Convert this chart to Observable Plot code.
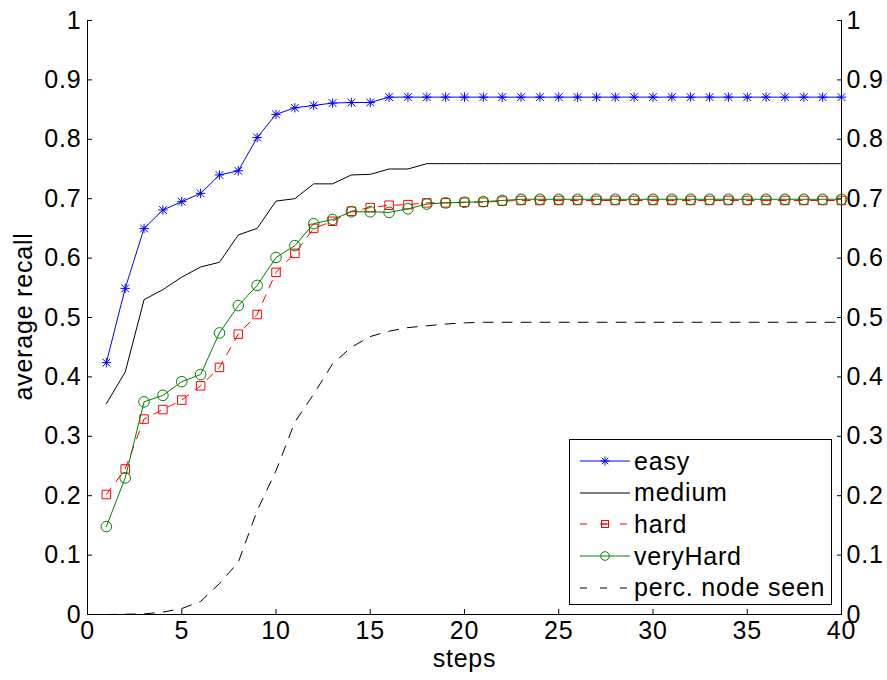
<!DOCTYPE html>
<html>
<head>
<meta charset="utf-8">
<script src="https://cdn.jsdelivr.net/npm/d3@7"></script>
<script src="https://cdn.jsdelivr.net/npm/@observablehq/plot@0.6"></script>
<style>
  html, body { margin: 0; padding: 0; background: #fff; }
  #wrap { position: relative; width: 887px; height: 680px; font-family: "Liberation Sans", Arial, Helvetica, sans-serif; }
  #legend { position: absolute; left: 569px; top: 439px; width: 263px; height: 166px; border: 1px solid #000; background: #fff; box-sizing: border-box; }
  #legend .row { position: absolute; left: 0; height: 32px; display: flex; align-items: center; }
  #legend .row span { font-size: 25px; letter-spacing: 0.8px; color: #000; margin-left: 4px; white-space: nowrap; }
</style>
</head>
<body>
<div id="wrap"></div>
<script>
// Recall per search step for each difficulty level, plus the share of nodes seen.
const steps = [1,2,3,4,5,6,7,8,9,10,11,12,13,14,15,16,17,18,19,20,21,22,23,24,25,26,27,28,29,30,31,32,33,34,35,36,37,38,39,40];

const easy = [0.424,0.549,0.650,0.681,0.695,0.709,0.740,0.747,0.803,0.842,0.853,0.857,0.861,0.862,0.862,
  0.871,0.871,0.871,0.871,0.871,0.871,0.871,0.871,0.871,0.871,0.871,0.871,0.871,0.871,0.871,
  0.871,0.871,0.871,0.871,0.871,0.871,0.871,0.871,0.871,0.871];

const medium = [0.355,0.408,0.530,0.547,0.568,0.585,0.593,0.639,0.650,0.696,0.700,0.725,0.725,0.740,0.741,
  0.750,0.750,0.759,0.759,0.759,0.759,0.759,0.759,0.759,0.759,0.759,0.759,0.759,0.759,0.759,
  0.759,0.759,0.759,0.759,0.759,0.759,0.759,0.759,0.759,0.759];

const hard = [0.202,0.245,0.329,0.345,0.361,0.385,0.416,0.472,0.505,0.576,0.608,0.650,0.662,0.679,0.685,
  0.689,0.690,0.693,0.693,0.694,0.694,0.696,0.697,0.697,0.697,0.697,0.697,0.697,0.697,0.697,
  0.697,0.697,0.697,0.697,0.697,0.697,0.697,0.697,0.697,0.697];

const veryHard = [0.148,0.230,0.358,0.369,0.392,0.404,0.474,0.520,0.554,0.601,0.621,0.658,0.665,0.678,0.678,
  0.677,0.683,0.691,0.693,0.694,0.695,0.697,0.699,0.699,0.699,0.699,0.699,0.699,0.699,0.699,
  0.699,0.699,0.699,0.699,0.699,0.699,0.699,0.699,0.699,0.699];

const percNodeSeen = [0.000,0.0005,0.001,0.004,0.010,0.022,0.052,0.088,0.175,0.242,0.324,0.371,0.422,0.450,0.468,
  0.477,0.483,0.486,0.489,0.491,0.492,0.492,0.492,0.492,0.492,0.492,0.492,0.492,0.492,0.492,
  0.492,0.492,0.492,0.492,0.492,0.492,0.492,0.492,0.492,0.492];

const xTicks = [0,5,10,15,20,25,30,35,40];
const yTicks = [0,0.1,0.2,0.3,0.4,0.5,0.6,0.7,0.8,0.9,1];
const seriesNames = ["easy","medium","hard","veryHard","perc. node seen"];

const rows = (vals) => steps.map((s, i) => ({step: s, value: vals[i]}));
const dEasy = rows(easy), dMedium = rows(medium), dHard = rows(hard),
      dVeryHard = rows(veryHard), dPerc = rows(percNodeSeen);

const fmt = (d) => String(+d.toFixed(1));

const chart = Plot.plot({
  width: 887,
  height: 680,
  marginLeft: 87,
  marginRight: 46,
  marginTop: 20,
  marginBottom: 66,
  style: {fontFamily: '"Liberation Sans", Arial, Helvetica, sans-serif', fontSize: "25px", letterSpacing: "0.8px", color: "#000", background: "#fff"},
  x: {domain: [0, 40]},
  y: {domain: [0, 1]},
  marks: [
    // axis frame: left, right and bottom spines
    Plot.ruleX([0, 40], {stroke: "#000", strokeWidth: 1}),
    Plot.ruleY([0], {stroke: "#000", strokeWidth: 1}),
    Plot.axisX(xTicks, {anchor: "bottom", tickSize: -5, tickPadding: 12, tickFormat: (d) => String(d), fontSize: 25, label: null, stroke: "#000"}),
    Plot.axisY(yTicks, {anchor: "left", tickSize: -5, tickPadding: 11, tickFormat: fmt, fontSize: 25, label: null, stroke: "#000"}),
    Plot.axisY(yTicks, {anchor: "right", tickSize: -5, tickPadding: 10, tickFormat: fmt, fontSize: 25, label: null, stroke: "#000"}),
    Plot.text(["steps"], {frameAnchor: "bottom", textAnchor: "middle", dy: 52, fontSize: 25, fill: "#000"}),
    Plot.text(["average recall"], {frameAnchor: "left", textAnchor: "middle", rotate: -90, dx: -64, dy: -1, fontSize: 25, fill: "#000"}),

    // percentage of nodes seen
    Plot.line(dPerc, {x: "step", y: "value", stroke: "#000", strokeWidth: 1, strokeDasharray: "10,9"}),
    // medium
    Plot.line(dMedium, {x: "step", y: "value", stroke: "#000", strokeWidth: 1}),
    // hard
    Plot.line(dHard, {x: "step", y: "value", stroke: "#ff0000", strokeWidth: 1, strokeDasharray: "8,8"}),
    Plot.dot(dHard, {x: "step", y: "value", symbol: "square", r: 4.8, stroke: "#ff0000", fill: "none", strokeWidth: 1}),
    // very hard
    Plot.line(dVeryHard, {x: "step", y: "value", stroke: "#008000", strokeWidth: 1}),
    Plot.dot(dVeryHard, {x: "step", y: "value", symbol: "circle", r: 5.3, stroke: "#008000", fill: "none", strokeWidth: 1}),
    // easy
    Plot.line(dEasy, {x: "step", y: "value", stroke: "#0000ff", strokeWidth: 1}),
    Plot.dot(dEasy, {x: "step", y: "value", symbol: "plus", r: 3.1, stroke: "#0000ff", strokeWidth: 1}),
    Plot.dot(dEasy, {x: "step", y: "value", symbol: "times", r: 3.6, stroke: "#0000ff", strokeWidth: 1})
  ]
});

const wrap = document.getElementById("wrap");
wrap.appendChild(chart);

// Legend box in the lower right of the plot area
const legend = document.createElement("div");
legend.id = "legend";
const swatch = [
  `<line x1="0" x2="50" y1="8" y2="8" stroke="#0000ff"/><path d="M25,3.5V12.5M20.5,8H29.5M21.8,4.8L28.2,11.2M28.2,4.8L21.8,11.2" stroke="#0000ff"/>`,
  `<line x1="0" x2="50" y1="8" y2="8" stroke="#000"/>`,
  `<line x1="0" x2="50" y1="8" y2="8" stroke="#ff0000" stroke-dasharray="7,13"/><rect x="21.5" y="4.5" width="7" height="7" fill="none" stroke="#ff0000"/><line x1="21.5" x2="28.5" y1="8" y2="8" stroke="#ff0000"/>`,
  `<line x1="0" x2="50" y1="8" y2="8" stroke="#008000"/><circle cx="25" cy="8" r="4.3" fill="none" stroke="#008000"/>`,
  `<line x1="0" x2="50" y1="8" y2="8" stroke="#000" stroke-dasharray="7,13"/>`
];
seriesNames.forEach((name, i) => {
  const row = document.createElement("div");
  row.className = "row";
  row.style.top = (5 + i * 31.7) + "px";
  row.style.left = "10px";
  row.innerHTML = `<svg width="50" height="16">${swatch[i]}</svg><span>${name}</span>`;
  legend.appendChild(row);
});
wrap.appendChild(legend);
</script>
</body>
</html>
